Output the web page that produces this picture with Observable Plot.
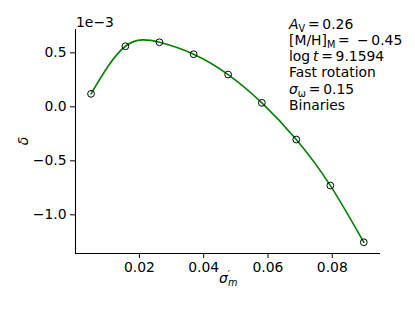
<!DOCTYPE html>
<html><head><meta charset="utf-8">
<script src="https://cdn.jsdelivr.net/npm/d3@7"></script>
<script src="https://cdn.jsdelivr.net/npm/@observablehq/plot@0.6"></script>
<style>
body{margin:0;background:#fff}
#chart{position:relative;width:415px;height:311px}
</style>
</head><body><div id="chart"></div>
<script>
// data
const sigmaM = [0.00495, 0.01564, 0.02623, 0.03688, 0.0476, 0.0581, 0.0688, 0.0794, 0.0898];
const delta = [0.120e-3, 0.561e-3, 0.598e-3, 0.487e-3, 0.299e-3, 0.037e-3, -0.303e-3, -0.729e-3, -1.254e-3];
const xTicks = [0.02, 0.04, 0.06, 0.08];
const yTicks = [-1.0e-3, -0.5e-3, 0, 0.5e-3];
const yExponentLabel = "1e\u22123";
const xDomain = [0.00012, 0.095];
const yDomain = [-1.358e-3, 0.716e-3];
const annotationLines = [
  [{t:"A", i:true}, {t:"V", sub:true}, {t:"\u2009=\u20090.26"}],
  [{t:"[M/H]"}, {t:"M", sub:true}, {t:"\u2009=\u2009 \u2212\u20090.45"}],
  [{t:"log\u2009"}, {t:"t", i:true}, {t:"\u2009=\u20099.1594"}],
  [{t:"Fast rotation"}],
  [{t:"\u03c3", i:true}, {t:"\u03c9", sub:true}, {t:"\u2009=\u20090.15"}],
  [{t:"Binaries"}]
];

const data = sigmaM.map((s, k) => ({s, d: delta[k]}));
const FONT = "DejaVu Sans";
const FS = 13.9;

const chart = Plot.plot({
  width: 415, height: 311,
  marginLeft: 75, marginRight: 35, marginTop: 29, marginBottom: 58,
  style: {fontFamily: FONT, fontSize: FS + "px", color: "black", background: "white"},
  x: {domain: xDomain},
  y: {domain: yDomain},
  marks: [
    Plot.axisX({ticks: xTicks, tickSize: 5, tickPadding: 4, label: null, tickFormat: d3.format(".2f")}),
    Plot.axisY({ticks: yTicks, tickSize: 5, tickPadding: 4, label: null,
      tickFormat: d => (d / 1e-3).toFixed(1).replace("-", "\u2212")}),
    Plot.ruleX([xDomain[0]], {stroke: "black", strokeWidth: 1.1}),
    Plot.ruleY([yDomain[0]], {stroke: "black", strokeWidth: 1.1}),
    Plot.line(data, {x: "s", y: "d", stroke: "#008000", strokeWidth: 1.6, curve: "natural"}),
    Plot.dot(data, {x: "s", y: "d", r: 3.4, stroke: "black", fill: "none", strokeWidth: 1})
  ]
});
document.getElementById("chart").appendChild(chart);

const svg = d3.select(chart);
svg.selectAll("text").attr("fill", "black");
const g = svg.append("g").attr("font-family", FONT).attr("font-size", FS)
  .attr("fill", "black").attr("text-anchor", "start");

// exponent label
g.append("text").attr("x", 76).attr("y", 27).text(yExponentLabel);
// y label
g.append("text").attr("transform", "translate(28,141) rotate(-90)")
  .attr("text-anchor", "middle").attr("font-style", "italic").text("\u03b4");
// x label sigma'_m
const xl = g.append("text").attr("x", 219).attr("y", 283);
xl.append("tspan").attr("font-style", "italic").text("\u03c3");
xl.append("tspan").attr("font-size", FS * 0.7).attr("dy", -5).text("\u2032");
xl.append("tspan").attr("font-size", FS * 0.7).attr("font-style", "italic").attr("dx", -2).attr("dy", 8).text("m");

// annotation block
annotationLines.forEach((segs, k) => {
  const t = g.append("text").attr("x", 289).attr("y", 28.5 + k * 16.3);
  let shifted = false;
  segs.forEach(s => {
    const ts = t.append("tspan").text(s.t);
    if (s.i) ts.attr("font-style", "italic");
    if (s.sub) { ts.attr("font-size", FS * 0.7).attr("dy", 3); shifted = true; }
    else if (shifted) { ts.attr("dy", -3); shifted = false; }
  });
});
</script>
</body></html>
